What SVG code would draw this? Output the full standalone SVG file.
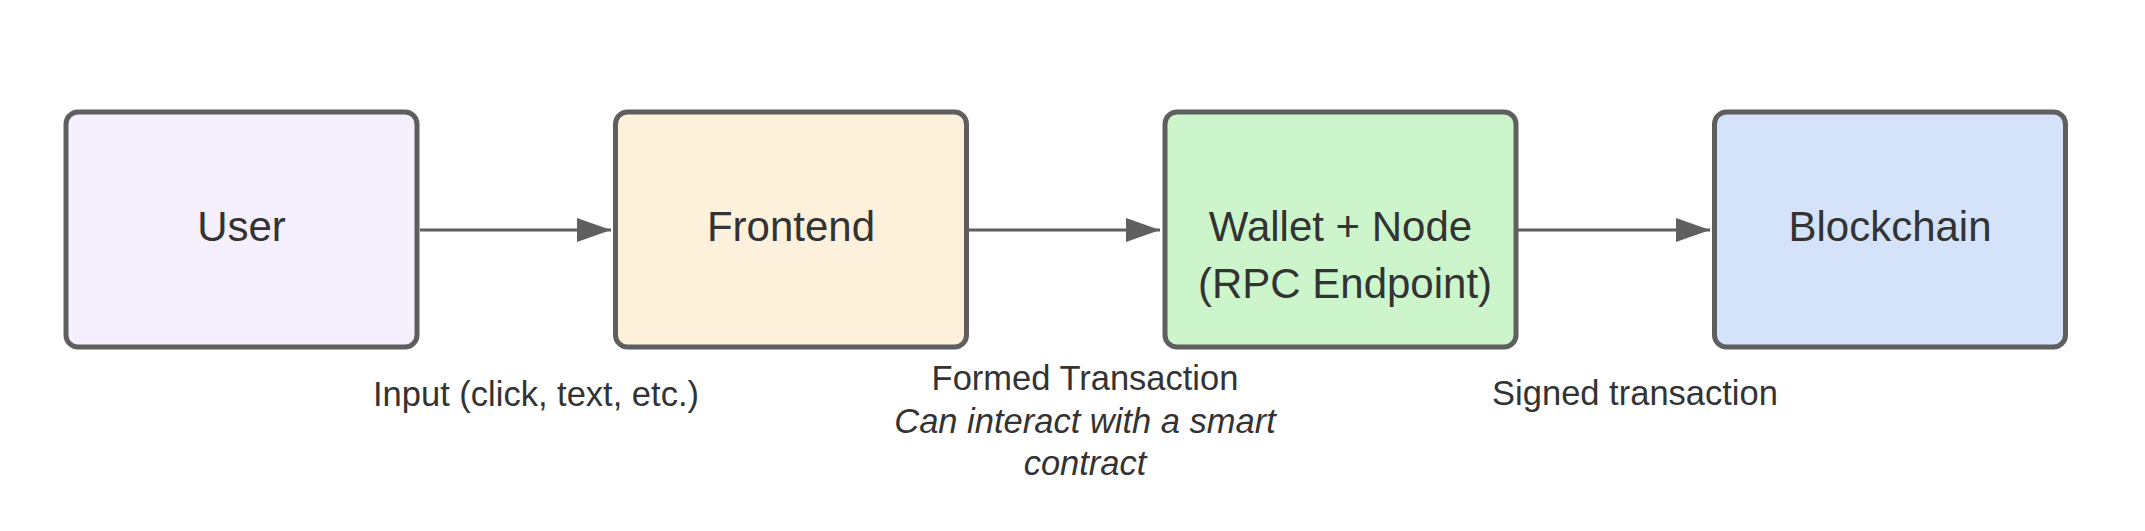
<svg xmlns="http://www.w3.org/2000/svg" width="2145" height="531" viewBox="0 0 2145 531">
<style>
.box{stroke:#5f5f5f;stroke-width:5}
.nt{font-family:"Liberation Sans",Arial,sans-serif;font-size:42px;fill:#333;text-anchor:middle}
.lb{font-family:"Liberation Sans",Arial,sans-serif;font-size:34.5px;fill:#333;text-anchor:middle}
.conn{stroke:#5f5f5f;stroke-width:3;fill:none}
</style>
<defs>
<marker id="ah" markerUnits="userSpaceOnUse" markerWidth="34" markerHeight="24" refX="34" refY="12" orient="auto">
<path d="M0,0 L34,12 L0,24 Z" fill="#5f5f5f"/>
</marker>
</defs>
<rect width="2145" height="531" fill="#ffffff"/>
<g id="user">
<rect class="box" x="66" y="112" width="351" height="235" rx="12" fill="#f6effd"/>
<text class="nt" x="241.5" y="241">User</text>
</g>
<g id="frontend">
<rect class="box" x="615.5" y="112" width="351" height="235" rx="12" fill="#fdf1dc"/>
<text class="nt" x="791" y="241">Frontend</text>
</g>
<g id="wallet">
<rect class="box" x="1165" y="112" width="351" height="235" rx="12" fill="#ccf5cc"/>
<text class="nt" x="1340.5" y="241">Wallet + Node</text>
<text class="nt" x="1345" y="298">(RPC Endpoint)</text>
</g>
<g id="blockchain">
<rect class="box" x="1714.5" y="112" width="351" height="235" rx="12" fill="#d4e3fa"/>
<text class="nt" x="1890" y="241">Blockchain</text>
</g>
<g id="connectors">
<line class="conn" x1="420" y1="230" x2="611" y2="230" marker-end="url(#ah)"/>
<line class="conn" x1="969" y1="230" x2="1160" y2="230" marker-end="url(#ah)"/>
<line class="conn" x1="1518" y1="230" x2="1710" y2="230" marker-end="url(#ah)"/>
<text class="lb" x="536" y="406">Input (click, text, etc.)</text>
<text class="lb" x="1085" y="390">Formed Transaction</text>
<text class="lb" x="1085" y="433" font-style="italic">Can interact with a smart</text>
<text class="lb" x="1085" y="475" font-style="italic">contract</text>
<text class="lb" x="1635" y="405">Signed transaction</text>
</g>
</svg>
